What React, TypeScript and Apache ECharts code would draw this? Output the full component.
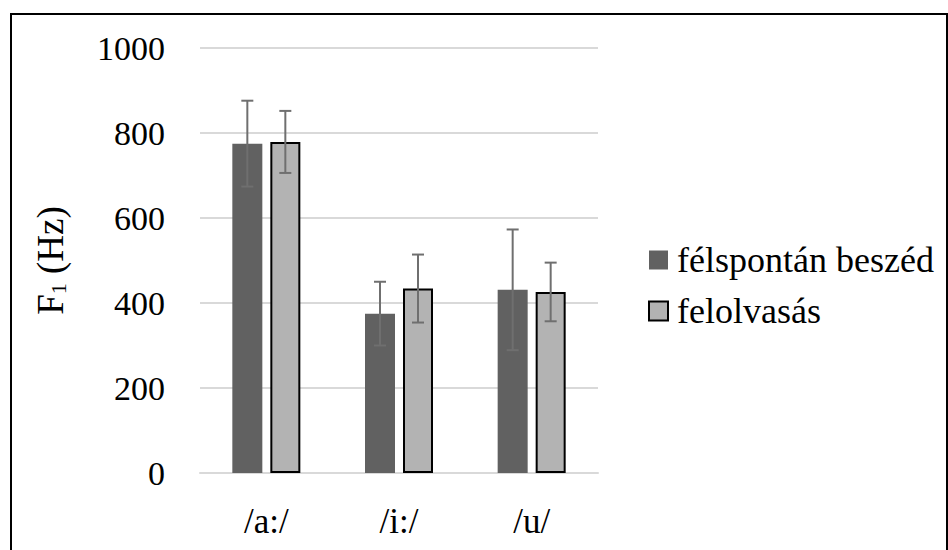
import React, { useEffect, useRef } from "react";
import * as echarts from "echarts";

const categories = ["/a:/", "/i:/", "/u/"];
const seriesNames = ["félspontán beszéd", "felolvasás"];
const spontMean = [775, 375, 431];
const spontSD = [101, 75, 142];
const readMean = [779, 434, 426];
const readSD = [73, 80, 69];
const yTicks = { min: 0, max: 1000, interval: 200 };

const FONT = "'Liberation Serif', 'Times New Roman', Tinos, 'DejaVu Serif', serif";
const BAR_W = 30;
const BAR_GAP_PX = 8;

function errorSeries(means: number[], sds: number[], sign: number) {
  const offset = sign * (BAR_W + BAR_GAP_PX) / 2;
  return {
    type: "custom",
    z: 5,
    silent: true,
    data: means.map((m, i) => [i, m - sds[i], m + sds[i]]),
    renderItem: (params: any, api: any) => {
      const x = api.value(0);
      const lo = api.coord([x, api.value(1)]);
      const hi = api.coord([x, api.value(2)]);
      const cx = lo[0] + offset;
      const style = { stroke: "#6f6f6f", lineWidth: 2 };
      const cap = 6;
      return {
        type: "group",
        children: [
          { type: "line", shape: { x1: cx, y1: lo[1], x2: cx, y2: hi[1] }, style },
          { type: "line", shape: { x1: cx - cap, y1: hi[1], x2: cx + cap, y2: hi[1] }, style },
          { type: "line", shape: { x1: cx - cap, y1: lo[1], x2: cx + cap, y2: lo[1] }, style },
        ],
      };
    },
  };
}

export default function App() {
  const ref = useRef<HTMLDivElement>(null);
  useEffect(() => {
    if (!ref.current) return;
    const chart = echarts.init(ref.current, null, { renderer: "svg" });
    chart.setOption({
      animation: false,
      backgroundColor: "#ffffff",
      textStyle: { fontFamily: FONT },
      grid: { left: 200, right: 350, top: 48, bottom: 77, containLabel: false },
      legend: {
        data: seriesNames,
        orient: "vertical",
        left: 643,
        top: 237,
        itemWidth: 19,
        itemHeight: 19,
        itemGap: 15,
        icon: "rect",
        textStyle: { fontFamily: FONT, fontSize: 36, color: "#000", padding: [0, 0, 0, 4] },
      },
      xAxis: {
        type: "category",
        data: categories,
        axisTick: { show: false },
        axisLine: { lineStyle: { color: "#d9d9d9", width: 2 } },
        axisLabel: { fontFamily: FONT, fontSize: 35, color: "#000", margin: 31 },
      },
      yAxis: {
        type: "value",
        min: yTicks.min,
        max: yTicks.max,
        interval: yTicks.interval,
        axisLine: { show: false },
        axisTick: { show: false },
        splitLine: { lineStyle: { color: "#d9d9d9", width: 2 } },
        axisLabel: {
          fontFamily: FONT,
          fontSize: 34,
          color: "#000",
          margin: 35,
          formatter: (v: number) => String(v),
        },
        name: "{a|F}{s|1}{a| (Hz)}",
        nameLocation: "middle",
        nameGap: 131,
        nameRotate: 90,
        nameTextStyle: {
          fontFamily: FONT,
          rich: {
            a: { fontFamily: FONT, fontSize: 37, color: "#000" },
            s: { fontFamily: FONT, fontSize: 22, color: "#000", padding: [16, 0, 0, 0] },
          },
        },
      },
      graphic: [
        {
          type: "rect",
          shape: { x: 11, y: 14, width: 936, height: 560 },
          style: { fill: "none", stroke: "#000", lineWidth: 2 },
          silent: true,
          z: 100,
        },
      ],
      series: [
        {
          name: seriesNames[0],
          type: "bar",
          data: spontMean,
          barWidth: BAR_W,
          barGap: `${(BAR_GAP_PX / BAR_W) * 100}%`,
          itemStyle: { color: "#616161" },
        },
        {
          name: seriesNames[1],
          type: "bar",
          data: readMean,
          barWidth: BAR_W,
          itemStyle: { color: "#b3b3b3", borderColor: "#000", borderWidth: 2 },
        },
        errorSeries(spontMean, spontSD, -1),
        errorSeries(readMean, readSD, 1),
      ],
    });
    return () => chart.dispose();
  }, []);
  return (
    <div
      ref={ref}
      style={{ position: "fixed", left: 0, top: 0, width: 948, height: 550, background: "#fff" }}
    />
  );
}
